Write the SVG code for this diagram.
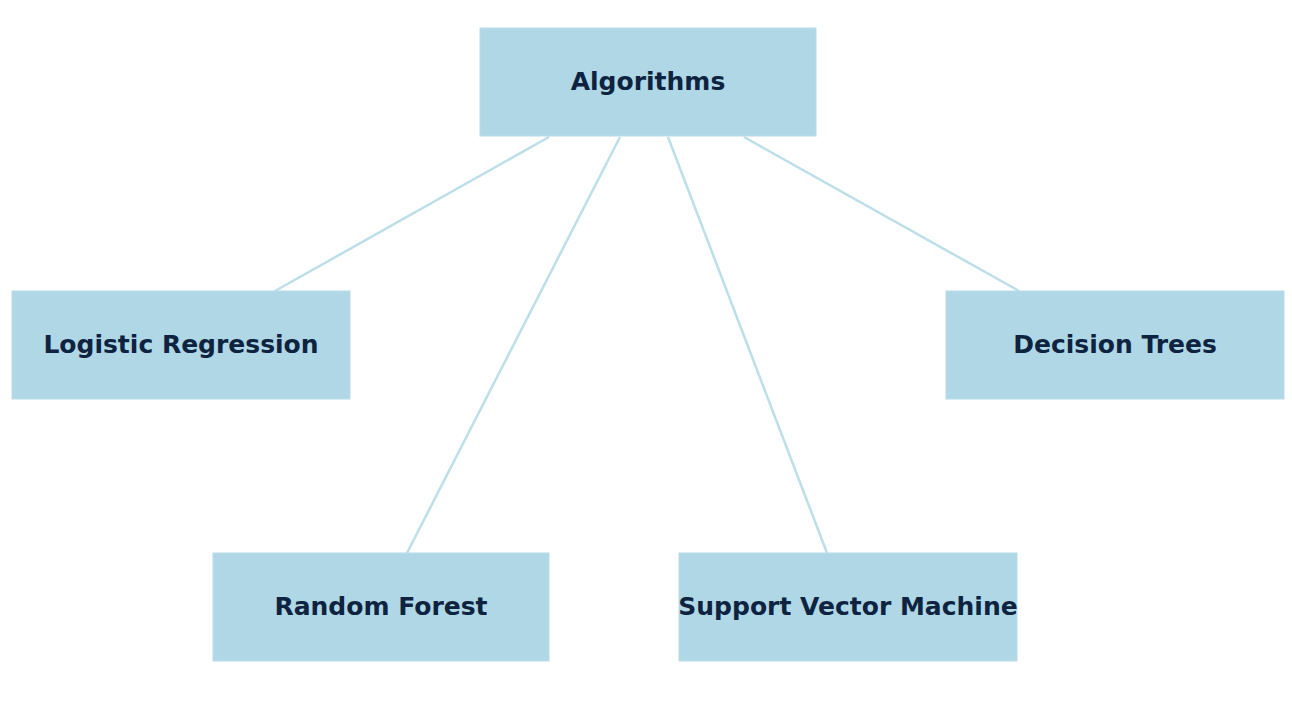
<svg xmlns="http://www.w3.org/2000/svg" width="1292" height="714" viewBox="0 0 1292 714">
<style>
.box{fill:#b0d7e6;stroke:#b8dbe8;stroke-width:1}
.lbl{font-family:"DejaVu Sans",sans-serif;font-weight:bold;font-size:25px;fill:#0d2340;text-anchor:middle;dominant-baseline:central}
.edge{stroke:#bcdfe9;stroke-width:2.5;fill:none}
</style>
<rect width="1292" height="714" fill="#ffffff"/>
<g id="connectors">
<line class="edge" x1="549" y1="137" x2="275" y2="291"/>
<line class="edge" x1="620" y1="137" x2="407" y2="553"/>
<line class="edge" x1="668" y1="137" x2="827" y2="553"/>
<line class="edge" x1="744" y1="137" x2="1019" y2="291"/>
</g>
<g id="algorithms"><rect class="box" x="480" y="28" width="336" height="108"/><text class="lbl" x="648" y="81">Algorithms</text></g>
<g id="logistic-regression"><rect class="box" x="12" y="291" width="338" height="108"/><text class="lbl" x="181" y="344">Logistic Regression</text></g>
<g id="decision-trees"><rect class="box" x="946" y="291" width="338" height="108"/><text class="lbl" x="1115" y="344">Decision Trees</text></g>
<g id="random-forest"><rect class="box" x="213" y="553" width="336" height="108"/><text class="lbl" x="381" y="606">Random Forest</text></g>
<g id="svm"><rect class="box" x="679" y="553" width="338" height="108"/><text class="lbl" x="848" y="606">Support Vector Machine</text></g>
</svg>
